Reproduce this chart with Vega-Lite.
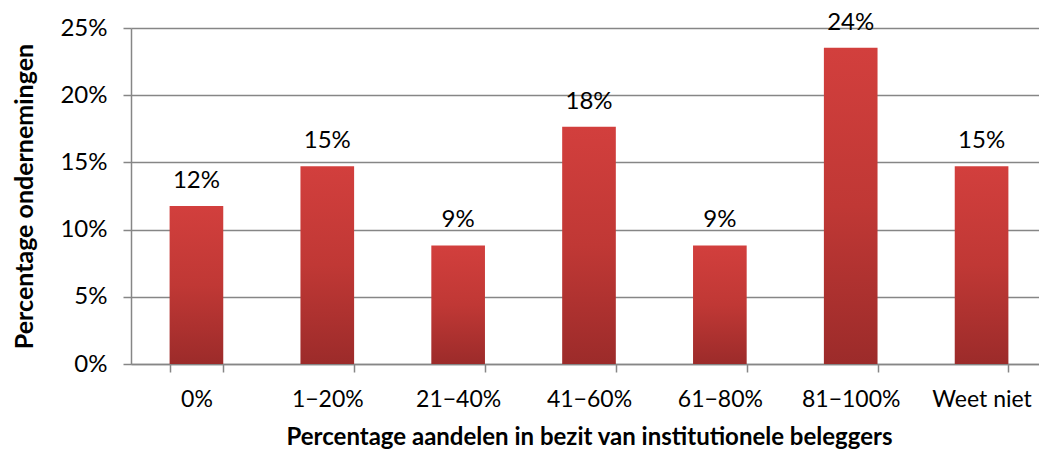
{
  "$schema": "https://vega.github.io/schema/vega-lite/v6.json",
  "autosize": "none",
  "width": 916,
  "height": 336,
  "padding": {"left": 131, "top": 28, "right": 0, "bottom": 89},
  "background": "white",
  "config": {
    "view": {"stroke": null},
    "font": "Lato"
  },
  "data": {
    "values": [
      {"cat": "0%", "pct": 0.1176, "label": "12%"},
      {"cat": "1−20%", "pct": 0.1471, "label": "15%"},
      {"cat": "21−40%", "pct": 0.0882, "label": "9%"},
      {"cat": "41−60%", "pct": 0.1765, "label": "18%"},
      {"cat": "61−80%", "pct": 0.0882, "label": "9%"},
      {"cat": "81−100%", "pct": 0.2353, "label": "24%"},
      {"cat": "Weet niet", "pct": 0.1471, "label": "15%"}
    ]
  },
  "encoding": {
    "x": {
      "field": "cat",
      "type": "nominal",
      "sort": null,
      "scale": {"paddingInner": 0.59, "paddingOuter": 0.295},
      "axis": {
        "title": "Percentage aandelen in bezit van institutionele beleggers",
        "titleFont": "Lato",
        "titleFontSize": 24,
        "titleFontWeight": "bold",
        "titleColor": "#000000",
        "titlePadding": 14,
        "titleAnchor": "middle",
        "labelAngle": 0,
        "labelFontSize": 23,
        "labelColor": "#000000",
        "labelPadding": 16,
        "domainColor": "#868686",
        "domainWidth": 1.5,
        "tickColor": "#868686",
        "tickWidth": 1.5,
        "tickSize": 8,
        "tickBand": "extent",
        "grid": false
      }
    }
  },
  "layer": [
    {
      "mark": {
        "type": "bar",
        "color": {
          "gradient": "linear",
          "x1": 0, "y1": 0, "x2": 0, "y2": 1,
          "stops": [
            {"offset": 0, "color": "#d23f3d"},
            {"offset": 0.5, "color": "#c03835"},
            {"offset": 1, "color": "#9c2b2a"}
          ]
        }
      },
      "encoding": {
        "y": {
          "field": "pct",
          "type": "quantitative",
          "scale": {"domain": [0, 0.25], "nice": false},
          "axis": {
            "title": "Percentage ondernemingen",
            "titleFont": "Lato",
            "titleFontSize": 25,
            "titleFontWeight": "bold",
            "titleColor": "#000000",
            "titlePadding": 22,
            "format": ".0%",
            "values": [0, 0.05, 0.1, 0.15, 0.2, 0.25],
            "labelFontSize": 24,
            "labelColor": "#000000",
            "labelPadding": 16,
            "domainColor": "#868686",
            "domainWidth": 1.5,
            "tickColor": "#868686",
            "tickWidth": 1.5,
            "tickSize": 8,
            "gridColor": "#868686",
            "gridWidth": 1.5
          }
        }
      }
    },
    {
      "mark": {"type": "text", "baseline": "alphabetic", "dy": -18, "fontSize": 24, "color": "#000000", "font": "Lato"},
      "encoding": {
        "y": {"field": "pct", "type": "quantitative"},
        "text": {"field": "label"}
      }
    }
  ]
}
